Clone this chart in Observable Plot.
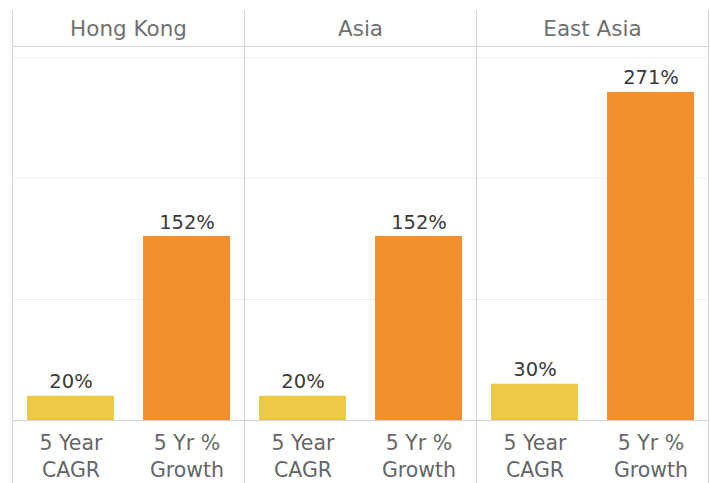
<!DOCTYPE html>
<html>
<head>
<meta charset="utf-8">
<script src="https://cdn.jsdelivr.net/npm/d3@7"></script>
<script src="https://cdn.jsdelivr.net/npm/@observablehq/plot@0.6"></script>
<style>
  html, body { margin: 0; padding: 0; background: #fff; }
</style>
</head>
<body>
<div id="chart"></div>
<script>
const regions = ["Hong Kong", "Asia", "East Asia"];
const measures = ["5 Year CAGR", "5 Yr % Growth"];
const measureLabels = ["5 Year\nCAGR", "5 Yr %\nGrowth"];
const cagr = [20, 20, 30];
const growth = [152, 152, 271];
const gridTicks = [100, 200, 300];
const colors = ["#EDC948", "#F28E2B"];

const data = regions.flatMap((r, i) => [
  {region: r, measure: measures[0], value: cagr[i]},
  {region: r, measure: measures[1], value: growth[i]}
]);
const labelOf = Object.fromEntries(measures.map((m, i) => [m, measureLabels[i]]));
const lineColor = "#d4d4d4";
const font = "'DejaVu Sans', sans-serif";

const chart = Plot.plot({
  width: 710,
  height: 483,
  marginLeft: 11,
  marginRight: 2,
  marginTop: 46,
  marginBottom: 63,
  style: {fontFamily: font, background: "#fff"},
  fx: {domain: regions, padding: 0, axis: null},
  x: {domain: measures, paddingInner: 0.25, paddingOuter: 0.125, axis: null},
  y: {domain: [0, 309], axis: null},
  color: {domain: measures, range: colors},
  marks: [
    Plot.gridY(gridTicks, {stroke: "#efefef", strokeOpacity: 1}),
    Plot.barY(data, {fx: "region", x: "measure", y: "value", fill: "measure"}),
    Plot.text(data, {fx: "region", x: "measure", y: "value", text: d => d.value + "%",
      dy: -8, lineAnchor: "bottom", fontSize: 19.5, fill: "#3a3a3a"}),
    Plot.text(regions, {fx: d => d, frameAnchor: "top", text: d => d, dy: -17, lineAnchor: "middle",
      fontSize: 21.5, fill: "#707070"}),
    Plot.text(data, {fx: "region", x: "measure", frameAnchor: "bottom", text: d => labelOf[d.measure],
      dy: 10, lineAnchor: "top", lineHeight: 1.32, fontSize: 20.5, fill: "#666"}),
    Plot.ruleY([0], {stroke: lineColor}),
    Plot.frame({anchor: "top", stroke: lineColor}),
    Plot.frame({anchor: "left", insetTop: -36, insetBottom: -63, stroke: lineColor}),
    Plot.frame({anchor: "right", fx: () => "East Asia", insetTop: -36, insetBottom: -63, stroke: lineColor})
  ]
});
document.getElementById("chart").appendChild(chart);
</script>
</body>
</html>
